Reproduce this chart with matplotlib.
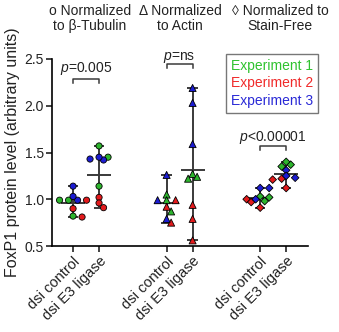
import numpy as np
import matplotlib.pyplot as plt
from matplotlib.lines import Line2D

plt.rcParams['font.family'] = ['Liberation Sans', 'DejaVu Sans']
plt.rcParams['mathtext.fontset'] = 'custom'
plt.rcParams['mathtext.rm'] = 'Liberation Sans'
plt.rcParams['mathtext.it'] = 'Liberation Sans:italic'

# FoxP1 levels, one row per experiment (1, 2, 3)
tubulin_ctrl = [[0.99, 0.99, 0.82], [0.99, 0.90, 0.81], [1.14, 0.99, 1.03]]
tubulin_e3 = [[1.57, 1.45, 1.14], [1.02, 0.96, 0.91], [1.43, 1.42, 1.45]]
actin_ctrl = [[1.05, 0.99, 0.87], [0.99, 0.92, 0.75], [1.26, 0.99, 0.79]]
actin_e3 = [[1.27, 1.22, 1.24], [0.94, 0.79, 0.56], [2.19, 2.03, 1.59]]
stain_ctrl = [[1.02, 1.03, 0.98], [1.00, 0.97, 0.91], [1.12, 1.12, 1.00]]
stain_e3 = [[1.35, 1.37, 1.40], [1.21, 1.22, 1.12], [1.31, 1.23, 1.25]]

experiments = ['Experiment 1', 'Experiment 2', 'Experiment 3']
tick_labels = ['dsi control', 'dsi E3 ligase'] * 3
headers = ['o Normalized\nto β-Tubulin', 'Δ Normalized\nto Actin', '◊ Normalized to\nStain-Free']
p_labels = ['$p$=0.005', '$p$=ns', '$p$<0.00001']

groups = [tubulin_ctrl, tubulin_e3, actin_ctrl, actin_e3, stain_ctrl, stain_e3]
positions = [0, 1, 3.6, 4.6, 7.2, 8.2]
markers = ['o', 'o', '^', '^', 'D', 'D']
msizes = [20, 20, 26, 26, 15, 15]
point_colors = ['#2db52d', '#e31a1c', '#1c1cd2']
text_colors = ['#2fc22f', '#f02a2a', '#2a2ad6']
bar_color = '#3a3a3a'

fig = plt.figure(figsize=(3.39, 3.32), dpi=100)
ax = fig.add_axes([52 / 339, 1 - 246 / 332, 256 / 339, 187 / 332])
ax.set_xlim(-0.81, 9.04)
ax.set_ylim(0.5, 2.5)


def swarm(values, xc, step=4.5, dmin=5.0):
    # spread overlapping points sideways, working in pixel space
    o = ax.transData.transform((0, 0))
    sx = ax.transData.transform((1, 0))[0] - o[0]
    sy = ax.transData.transform((0, 1))[1] - o[1]
    placed = []
    offs = np.zeros(len(values))
    for i in np.argsort(values)[::-1]:
        yi = values[i] * sy
        for k in [0, 1, -1, 2, -2, 3, -3, 4, -4, 5, -5]:
            xo = k * step
            if all(np.hypot(xo - px, yi - py) >= dmin for px, py in placed):
                break
        placed.append((xo, yi))
        offs[i] = xo / sx
    return xc + offs


for g, xc, m, s in zip(groups, positions, markers, msizes):
    vals = np.concatenate([np.asarray(r) for r in g])
    cols = np.repeat(point_colors, [len(r) for r in g])
    # mean with range
    ax.vlines(xc, vals.min(), vals.max(), color=bar_color, lw=1.4, zorder=2)
    ax.hlines([vals.min(), vals.max()], xc - 0.2, xc + 0.2, color=bar_color, lw=1.4, zorder=2)
    ax.hlines(vals.mean(), xc - 0.46, xc + 0.46, color=bar_color, lw=1.4, zorder=2)
    xs = swarm(vals, xc)
    ax.scatter(xs, vals, s=s, marker=m, c=cols, edgecolors='black', linewidths=0.6, zorder=3)

# significance brackets
bracket_y = [2.29, 2.45, 1.57]
text_y = [2.36, 2.49, 1.62]
for i in range(3):
    x0, x1 = positions[2 * i], positions[2 * i + 1]
    yb = bracket_y[i]
    ax.plot([x0, x0, x1, x1], [yb - 0.045, yb, yb, yb - 0.045], color=bar_color, lw=1.1, clip_on=False)
    ax.text((x0 + x1) / 2, text_y[i], p_labels[i], ha='center', va='baseline', fontsize=10,
            color='#222222', clip_on=False)

ax.spines['top'].set_visible(False)
ax.spines['right'].set_visible(False)
ax.spines['left'].set_linewidth(1.2)
ax.spines['bottom'].set_linewidth(1.2)
ax.set_yticks([0.5, 1.0, 1.5, 2.0, 2.5])
ax.set_yticklabels(['0.5', '1.0', '1.5', '2.0', '2.5'], fontsize=10)
ax.set_xticks(positions)
ax.set_xticklabels(tick_labels, rotation=45, ha='right', rotation_mode='anchor', fontsize=10.5)
ax.tick_params(direction='out', length=4, width=1.2, pad=2, colors='#222222')
ax.set_ylabel('FoxP1 protein level (arbitrary units)', fontsize=11.5, color='#222222', labelpad=3)

# experiment key
handles = [Line2D([], [], linestyle='none') for _ in experiments]
leg = ax.legend(handles, experiments, loc='upper right', bbox_to_anchor=(318 / 339, 1 - 54 / 332),
                bbox_transform=fig.transFigure, frameon=True, fancybox=False, handlelength=0,
                handletextpad=0, borderaxespad=0, borderpad=0.35, labelspacing=0.25,
                fontsize=10, labelcolor=text_colors)
leg.get_frame().set_edgecolor('#555555')
leg.get_frame().set_linewidth(1.0)

header_x = [90, 180, 280]
for hx, h in zip(header_x, headers):
    fig.text(hx / 339, 1 - 4 / 332, h, ha='center', va='top', fontsize=10,
             color='#222222', linespacing=1.05)

fig.savefig('out.png', dpi=100)
